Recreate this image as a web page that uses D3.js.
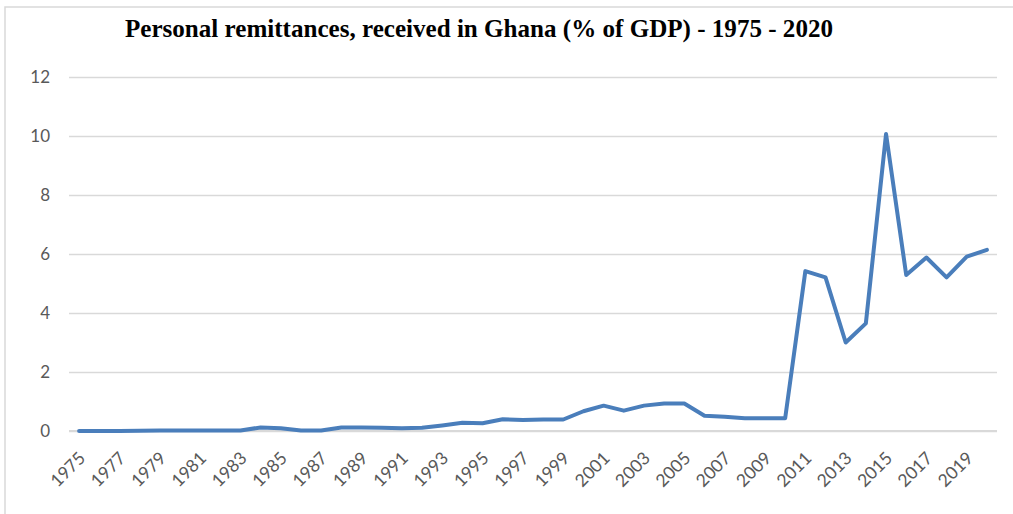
<!DOCTYPE html>
<html>
<head>
<meta charset="utf-8">
<script src="https://cdn.jsdelivr.net/npm/d3@7"></script>
<style>
  html, body { margin: 0; padding: 0; background: #fff; }
  svg { display: block; }
</style>
</head>
<body>
<svg id="chart" width="1013" height="514"></svg>
<script>
// Personal remittances received, % of GDP, Ghana
const years = d3.range(1975, 2021);
const remittances = [
  0.00, 0.00, 0.00, 0.01, 0.02, 0.02, 0.02, 0.02, 0.02, 0.12,
  0.09, 0.02, 0.02, 0.12, 0.12, 0.11, 0.09, 0.11, 0.19, 0.28,
  0.26, 0.40, 0.37, 0.39, 0.39, 0.67, 0.86, 0.69, 0.86, 0.93,
  0.93, 0.52, 0.48, 0.43, 0.43, 0.43, 5.42, 5.21, 3.00, 3.65,
  10.07, 5.29, 5.88, 5.21, 5.91, 6.14
];
const yTicks = [0, 2, 4, 6, 8, 10, 12];
const xTickLabels = years.filter(y => (y - 1975) % 2 === 0);
const title = "Personal remittances, received in Ghana (% of GDP) - 1975 - 2020";

const svg = d3.select("#chart");
const plot = { left: 69, right: 997, top: 77, bottom: 431 };

// outer chart frame
svg.append("rect")
  .attr("x", 5).attr("y", 7)
  .attr("width", 1020).attr("height", 520)
  .attr("fill", "#fff")
  .attr("stroke", "#d9d9d9")
  .attr("stroke-width", 1.5);

const x = d3.scaleBand().domain(years).range([plot.left, plot.right]);
const y = d3.scaleLinear().domain([0, 12]).range([plot.bottom, plot.top]);

// horizontal gridlines + y labels
const yAxis = d3.axisLeft(y).tickValues(yTicks).tickSize(-(plot.right - plot.left)).tickPadding(19);
const gy = svg.append("g").attr("transform", `translate(${plot.left},0)`).call(yAxis);
gy.select(".domain").remove();
gy.selectAll(".tick line").attr("stroke", "#d9d9d9").attr("stroke-width", 1.3);
gy.selectAll(".tick text")
  .attr("fill", "#595959")
  .style("font-family", "Lato, 'Open Sans', sans-serif")
  .style("font-size", "17px");

// category axis line
svg.append("line")
  .attr("x1", plot.left).attr("x2", plot.right)
  .attr("y1", plot.bottom).attr("y2", plot.bottom)
  .attr("stroke", "#d9d9d9").attr("stroke-width", 2);

// x labels (every other year, rotated)
const xAxis = d3.axisBottom(x).tickValues(xTickLabels).tickSize(0).tickPadding(0);
const gx = svg.append("g").attr("transform", `translate(0,${plot.bottom})`).call(xAxis);
gx.select(".domain").remove();
gx.selectAll(".tick text")
  .attr("fill", "#595959")
  .style("font-family", "Lato, 'Open Sans', sans-serif")
  .style("font-size", "17.5px")
  .attr("text-anchor", "end")
  .attr("dy", "0.35em")
  .attr("transform", "translate(3,24) rotate(-45)");

// series line
const line = d3.line()
  .x((d, i) => x(years[i]) + x.bandwidth() / 2)
  .y(d => y(d));

svg.append("path")
  .datum(remittances)
  .attr("d", line)
  .attr("fill", "none")
  .attr("stroke", "#4a7ebb")
  .attr("stroke-width", 4)
  .attr("stroke-linejoin", "round")
  .attr("stroke-linecap", "round");

// title
svg.append("text")
  .attr("x", 479).attr("y", 37)
  .attr("text-anchor", "middle")
  .attr("textLength", 708)
  .attr("lengthAdjust", "spacingAndGlyphs")
  .style("font-family", "'Liberation Serif', 'Times New Roman', serif")
  .style("font-weight", "bold")
  .style("font-size", "25px")
  .attr("fill", "#000")
  .text(title);
</script>
</body>
</html>
